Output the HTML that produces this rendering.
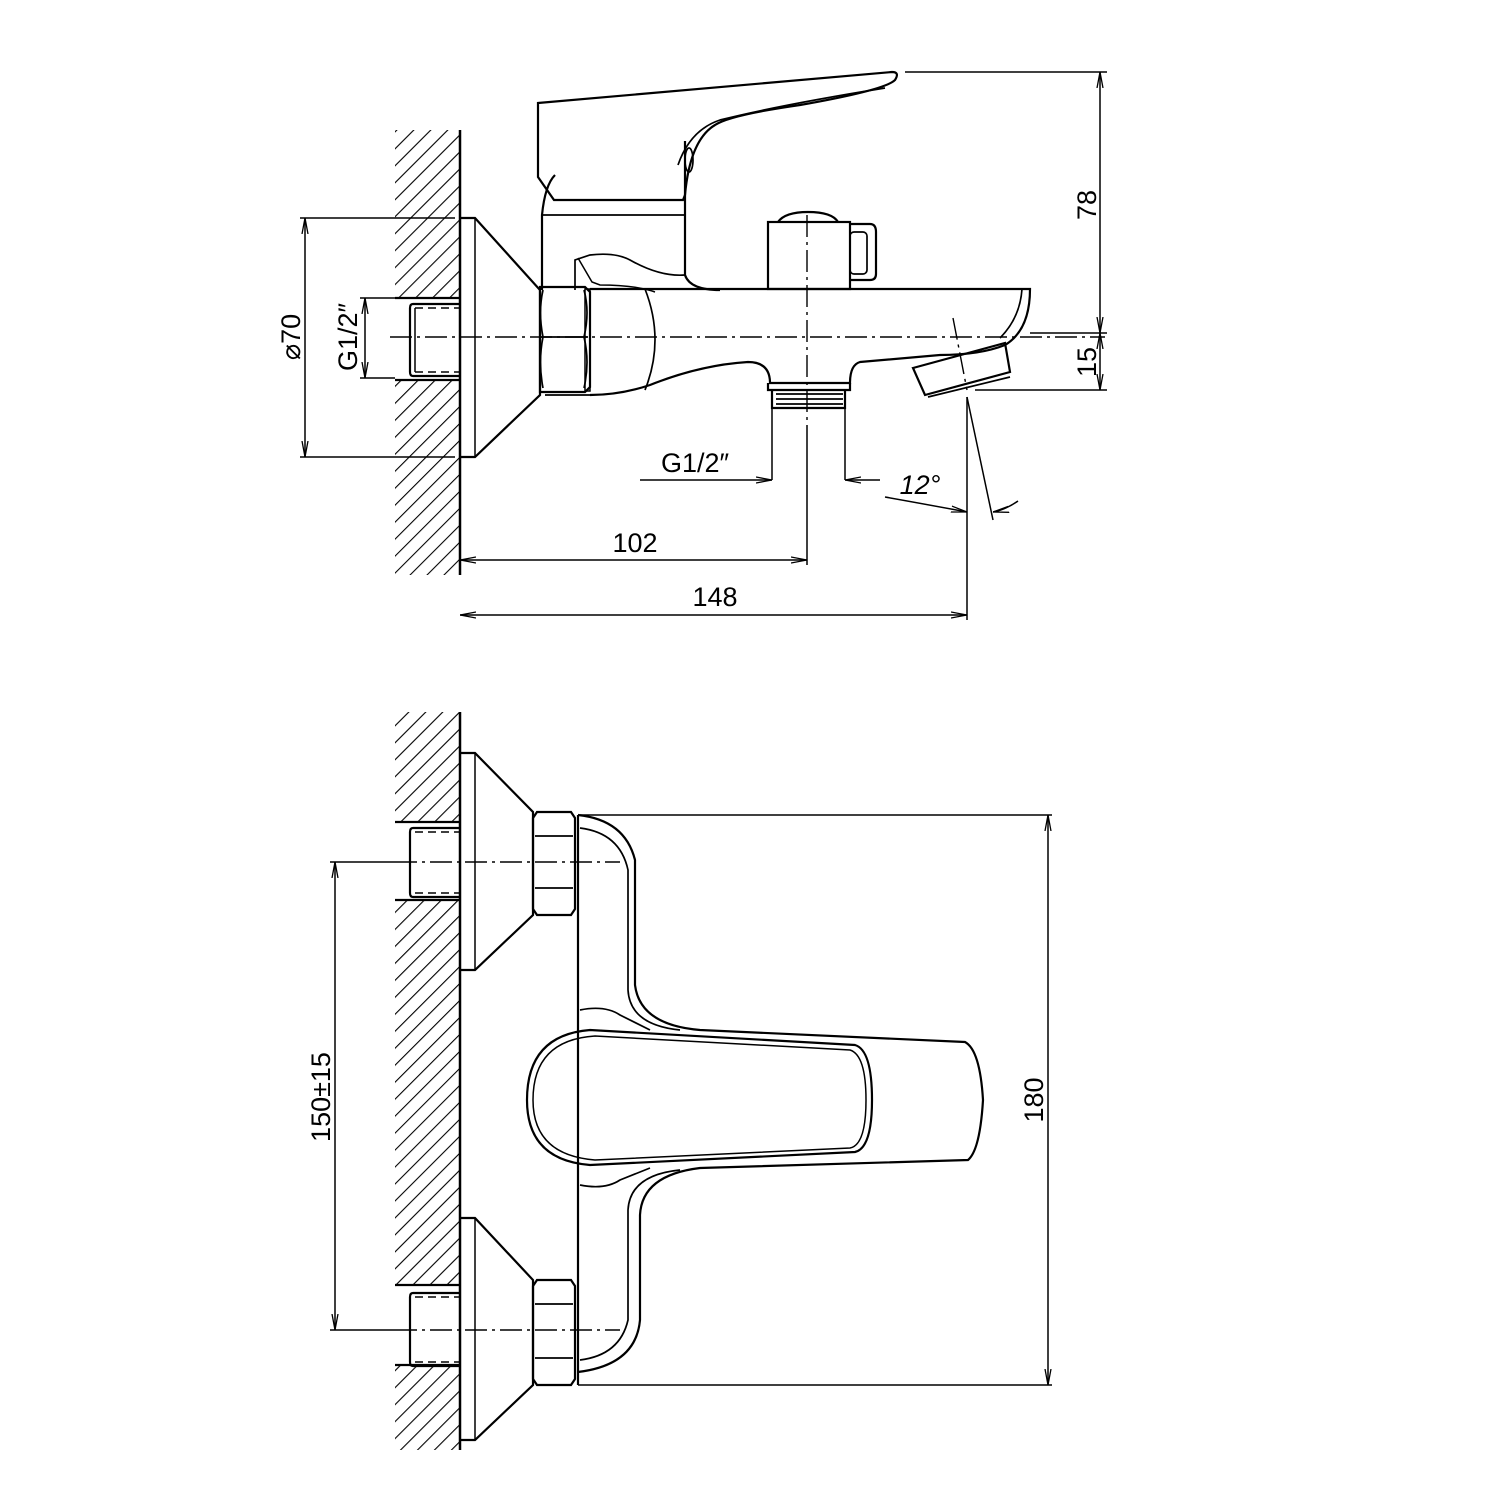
<!DOCTYPE html>
<html><head><meta charset="utf-8"><style>
html,body{margin:0;padding:0;background:#fff}
svg{display:block}
text{font-family:"Liberation Sans",sans-serif;font-size:27px;fill:#000}
</style></head><body>
<svg width="1500" height="1500" viewBox="0 0 1500 1500" xmlns="http://www.w3.org/2000/svg">
<defs>
<pattern id="h" width="12" height="12" patternUnits="userSpaceOnUse" patternTransform="rotate(45)">
<line x1="0" y1="0" x2="0" y2="12" stroke="#000" stroke-width="2.2"/>
</pattern>
<marker id="a" markerWidth="16" markerHeight="8" refX="16" refY="4" orient="auto" markerUnits="userSpaceOnUse">
<path d="M0,1 L16,4 L0,7" fill="none" stroke="#000" stroke-width="1.3"/>
</marker>
<marker id="b" markerWidth="16" markerHeight="8" refX="0" refY="4" orient="auto" markerUnits="userSpaceOnUse">
<path d="M16,1 L0,4 L16,7" fill="none" stroke="#000" stroke-width="1.3"/>
</marker>
</defs>
<g fill="none" stroke="#000" stroke-width="2.2">
<rect x="395" y="130" width="65" height="168" fill="url(#h)" stroke="none"/>
<rect x="395" y="380" width="65" height="195" fill="url(#h)" stroke="none"/>
<line x1="460" y1="130" x2="460" y2="575" stroke-width="2.5"/>
<line x1="395" y1="298" x2="460" y2="298"/><line x1="395" y1="380" x2="460" y2="380"/>
<path d="M460,304 H413 Q410,304 410,308 V372 Q410,376 413,376 H460"/>
<path d="M415,308 H460 M415,372 H460" stroke-dasharray="8,5" stroke-width="1.5"/>
<line x1="415" y1="308" x2="415" y2="372" stroke-width="1.5"/>
<path d="M460,218 H475 L540,290 V395 L475,457 H460"/>
<line x1="475" y1="218" x2="475" y2="457" stroke-width="1.5"/>
<path d="M540,287 H585 L590,292 V387 L585,392 H540 Z"/>
<path d="M543,290 Q538,312 543,337 Q538,362 543,388 M584,290 Q590,312 584,337 Q590,362 584,388 M541,337 H588" stroke-width="1.7"/>
<rect x="585" y="289" width="5" height="102" stroke-width="1.5"/>
<path d="M590,289 H1030 Q1030,330 1005,345 Q980,355 940,355 L860,362 Q850,365 850,383 L770,383 Q770,362 748,362 Q700,365 650,385 Q620,395 590,395"/>
<path d="M590,395 L545,395" stroke-width="1.7"/>
<path d="M645,289 Q665,340 645,390" stroke-width="1.7"/>
<path d="M1022,289 Q1020,318 1000,338" stroke-width="1.7"/>
<path d="M542,290 V215 Q545,185 555,175 M685,141 V275 Q690,290 720,290"/>
<line x1="542" y1="215" x2="685" y2="215" stroke-width="1.7"/>
<path d="M575,290 V260 L590,255 Q615,252 630,260 Q660,277 685,275" stroke-width="1.7"/>
<path d="M578,258 L592,282 L600,285 Q635,285 655,292" stroke-width="1.5"/>
<path d="M538,103 L892,72 Q900,72 895,80 Q885,90 800,105 Q730,115 715,125 Q690,140 685,195 L683,200 H554 L538,177 Z"/>
<path d="M885,88 Q780,105 720,120 Q690,130 678,165" stroke-width="1.7"/>
<ellipse cx="689" cy="160" rx="4" ry="12" stroke-width="1.7"/>
<rect x="768" y="222" width="82" height="67"/>
<path d="M778,222 Q785,212 808,212 Q832,212 838,222"/>
<path d="M850,224 H870 Q876,224 876,232 V274 Q876,280 870,280 H850"/>
<rect x="850" y="232" width="17" height="42" rx="4" stroke-width="1.7"/>
<path d="M768,383 V390 H850 V383 M772,390 V408 H845 V390"/>
<path d="M776,394 H843 M776,399 H843 M776,404 H843" stroke-width="1.7"/>
<path d="M772,408 V480 M845,408 V480" stroke-width="1.5"/>
<path d="M913,368 L1005,343 L1010,372 L925,395 Z"/>
<path d="M928,397 L1010,377" stroke-width="1.7"/>
<g stroke-width="1.4" stroke-dasharray="22,5,3,5">
<line x1="390" y1="337" x2="1105" y2="337"/>
<line x1="807" y1="215" x2="807" y2="425"/>
<line x1="953" y1="318" x2="967" y2="390"/>
</g>
<g stroke-width="1.5">
<line x1="905" y1="72" x2="1107" y2="72"/><line x1="1030" y1="333" x2="1107" y2="333"/><line x1="975" y1="390" x2="1107" y2="390"/>
<line x1="1100" y1="72" x2="1100" y2="333" marker-start="url(#b)" marker-end="url(#a)"/>
<line x1="1100" y1="333" x2="1100" y2="390" marker-start="url(#b)" marker-end="url(#a)"/>
<line x1="300" y1="218" x2="455" y2="218"/><line x1="300" y1="457" x2="455" y2="457"/>
<line x1="305" y1="218" x2="305" y2="457" marker-start="url(#b)" marker-end="url(#a)"/>
<line x1="360" y1="298" x2="395" y2="298"/><line x1="360" y1="378" x2="395" y2="378"/>
<line x1="365" y1="298" x2="365" y2="378" marker-start="url(#b)" marker-end="url(#a)"/>
<line x1="640" y1="480" x2="772" y2="480" marker-end="url(#a)"/>
<line x1="880" y1="480" x2="845" y2="480" marker-end="url(#a)"/>
<line x1="807" y1="425" x2="807" y2="565"/>
<line x1="967" y1="397" x2="967" y2="620"/>
<line x1="967" y1="397" x2="993" y2="520"/>
<line x1="460" y1="560" x2="807" y2="560" marker-start="url(#b)" marker-end="url(#a)"/>
<line x1="460" y1="615" x2="967" y2="615" marker-start="url(#b)" marker-end="url(#a)"/>
<path d="M885,497 Q930,505 967,512" marker-end="url(#a)"/>
<path d="M1018,501 Q1005,510 993,512" marker-end="url(#a)"/>
</g>
<rect x="395" y="712" width="65" height="110" fill="url(#h)" stroke="none"/>
<rect x="395" y="900" width="65" height="385" fill="url(#h)" stroke="none"/>
<rect x="395" y="1365" width="65" height="85" fill="url(#h)" stroke="none"/>
<line x1="460" y1="712" x2="460" y2="1450" stroke-width="2.5"/>
<line x1="395" y1="822" x2="460" y2="822"/><line x1="395" y1="900" x2="460" y2="900"/>
<line x1="395" y1="1285" x2="460" y2="1285"/><line x1="395" y1="1365" x2="460" y2="1365"/>
<path d="M460,828 H413 Q410,828 410,832 V893 Q410,897 413,897 H460"/>
<path d="M415,832 H460 M415,893 H460" stroke-dasharray="8,5" stroke-width="1.5"/>
<path d="M460,1293 H413 Q410,1293 410,1297 V1362 Q410,1366 413,1366 H460"/>
<path d="M415,1297 H460 M415,1362 H460" stroke-dasharray="8,5" stroke-width="1.5"/>
<path d="M460,753 H475 L533,812 V915 L475,970 H460"/>
<line x1="475" y1="753" x2="475" y2="970" stroke-width="1.5"/>
<path d="M460,1218 H475 L533,1280 V1385 L475,1440 H460"/>
<line x1="475" y1="1218" x2="475" y2="1440" stroke-width="1.5"/>
<path d="M537,812 H571 L575,818 V909 L571,915 H537 L533,909 V818 Z"/>
<path d="M535,836 H573 M535,888 H573" stroke-width="1.7"/>
<path d="M537,1280 H571 L575,1286 V1379 L571,1385 H537 L533,1379 V1286 Z"/>
<path d="M535,1304 H573 M535,1358 H573" stroke-width="1.7"/>
<path d="M578,815 V1385"/>
<path d="M578,815 Q625,820 635,860 V985 Q640,1025 700,1030 L965,1042 Q980,1050 983,1100 Q980,1150 968,1160 L700,1168 Q642,1175 640,1215 V1320 Q636,1365 578,1372"/>
<path d="M580,828 Q620,833 628,870 V990 Q630,1025 680,1030" stroke-width="1.7"/>
<path d="M580,1010 Q605,1005 620,1015 L650,1030" stroke-width="1.7"/>
<path d="M580,1185 Q605,1190 620,1180 L650,1168" stroke-width="1.7"/>
<path d="M580,1360 Q620,1355 628,1320 V1210 Q630,1175 680,1170" stroke-width="1.7"/>
<path d="M590,1030 L855,1045 Q872,1050 872,1100 Q872,1148 855,1152 L590,1165 Q527,1160 527,1100 Q527,1035 590,1030 Z"/>
<path d="M595,1036 L850,1050 Q866,1055 866,1100 Q866,1145 850,1148 L595,1160 Q533,1155 533,1100 Q533,1040 595,1036 Z" stroke-width="1.5"/>
<g stroke-width="1.4" stroke-dasharray="22,5,3,5">
<line x1="395" y1="862" x2="620" y2="862"/>
<line x1="395" y1="1330" x2="620" y2="1330"/>
</g>
<g stroke-width="1.5">
<line x1="330" y1="862" x2="395" y2="862"/><line x1="330" y1="1330" x2="395" y2="1330"/>
<line x1="335" y1="862" x2="335" y2="1330" marker-start="url(#b)" marker-end="url(#a)"/>
<line x1="578" y1="815" x2="1052" y2="815"/><line x1="578" y1="1385" x2="1052" y2="1385"/>
<line x1="1048" y1="815" x2="1048" y2="1385" marker-start="url(#b)" marker-end="url(#a)"/>
</g>
</g>
<text transform="translate(1096,205) rotate(-90)" text-anchor="middle">78</text>
<text transform="translate(1096,362) rotate(-90)" text-anchor="middle">15</text>
<text transform="translate(300,337) rotate(-90)" text-anchor="middle">⌀70</text>
<text transform="translate(357,337) rotate(-90)" text-anchor="middle">G1/2″</text>
<text x="695" y="472" text-anchor="middle">G1/2″</text>
<text x="635" y="552" text-anchor="middle">102</text>
<text x="715" y="606" text-anchor="middle">148</text>
<text x="920" y="494" text-anchor="middle" font-style="italic">12°</text>
<text transform="translate(1043,1100) rotate(-90)" text-anchor="middle">180</text>
<text transform="translate(330,1097) rotate(-90)" text-anchor="middle">150±15</text>
</svg>
</body></html>
